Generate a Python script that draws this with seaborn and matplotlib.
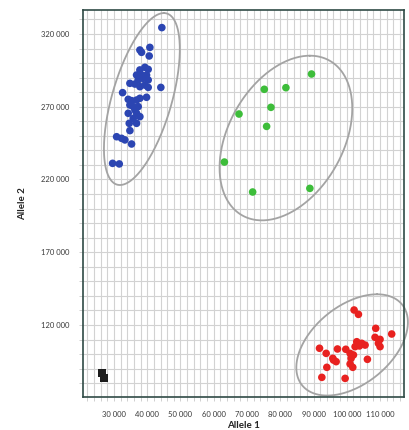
import numpy as np
import pandas as pd
import matplotlib
matplotlib.use("Agg")
import matplotlib.pyplot as plt
from matplotlib.ticker import MultipleLocator, FixedLocator
import seaborn as sns

# ---------------- data ----------------
blue_x = [44400, 37800, 38300, 40800, 40600, 37800, 39300, 40300, 36800, 38300, 39800,
          38800, 37300, 40300, 34800, 36300, 39300, 37800, 40300, 44100, 32600, 39800,
          34300, 35300, 36800, 37800, 34800, 35800, 37300, 36300, 34300, 36800, 37800,
          35800, 34600, 36800, 34800, 30800, 32300, 33300, 35300, 29600, 31600]
blue_y = [324400, 309000, 307400, 310800, 304900, 295300, 297100, 295700, 291800, 291800,
          291800, 289500, 288400, 288400, 286100, 285600, 284900, 283800, 283300, 283300,
          279700, 276500, 275100, 274200, 274600, 275800, 271200, 270100, 270100, 267800,
          265500, 265500, 263200, 262000, 258600, 258600, 253600, 249400, 248300, 247200,
          244400, 231100, 230700]

green_x = [89400, 75200, 81700, 67600, 77200, 75900, 63200, 71700, 88900]
green_y = [292500, 282000, 283100, 265000, 269600, 256500, 232000, 211400, 213900]

red_x = [102200, 103500, 108700, 113500, 108500, 110000, 109500, 110000, 103000, 104500,
         105500, 103800, 102500, 91800, 97200, 93800, 99700, 101000, 102000, 101300,
         95800, 96800, 96000, 106200, 101000, 101800, 94000, 92500, 99500]
red_y = [130300, 127300, 117700, 113800, 111500, 110100, 107400, 105100, 108500, 107400,
         106200, 105600, 105100, 104000, 103500, 100500, 103300, 100500, 99400, 97100,
         97100, 94800, 95900, 96400, 93200, 90900, 90900, 84000, 83300]

ntc_x = [26300, 27100]
ntc_y = [86800, 83400]

x_ticks = [30000, 40000, 50000, 60000, 70000, 80000, 90000, 100000, 110000]
x_tick_labels = ["30 000", "40 000", "50 000", "60 000", "70 000", "80 000",
                 "90 000", "100 000", "110 000"]
y_ticks = [120000, 170000, 220000, 270000, 320000]
y_tick_labels = ["120 000", "170 000", "220 000", "270 000", "320 000"]

# cluster ellipses: centre, conjugate semi-diameters (data units)
ell_cx = [38400, 81700, 101600]
ell_cy = [275300, 248500, 106300]
ell_dx = [6600, 7200, 7500]      # horizontal offset of top point
ell_dy = [59100, 56600, 34800]   # vertical semi-extent
ell_h = [9300, 18600, 15000]     # horizontal half chord through centre

# ---------------- figure ----------------
sns.set_theme(style="white")
plt.rcParams["font.family"] = ["Lato", "DejaVu Sans"]

fig = plt.figure(figsize=(4.1, 4.3), dpi=100)
ax = fig.add_axes([83 / 410, 1 - 397 / 430, (404 - 83) / 410, (397 - 10) / 430])

df = pd.DataFrame({
    "x": blue_x + green_x + red_x + ntc_x,
    "y": blue_y + green_y + red_y + ntc_y,
    "group": ["A"] * len(blue_x) + ["B"] * len(green_x) + ["C"] * len(red_x) + ["N"] * len(ntc_x),
})
palette = {"A": "#2b45b2", "B": "#3dbd3a", "C": "#e8211f", "N": "#1c1c1c"}

sns.scatterplot(data=df[df.group != "N"], x="x", y="y", hue="group", palette=palette,
                s=30, linewidth=0, legend=False, ax=ax, zorder=3)
sns.scatterplot(data=df[df.group == "N"], x="x", y="y", color=palette["N"], marker="s",
                s=26, linewidth=0, legend=False, ax=ax, zorder=3)

t = np.linspace(0, 2 * np.pi, 300)
for cx, cy, dx, dy, h in zip(ell_cx, ell_cy, ell_dx, ell_dy, ell_h):
    ex = cx + dx * np.cos(t) + h * np.sin(t)
    ey = cy + dy * np.cos(t)
    ax.plot(ex, ey, color="#a3a3a3", lw=1.3, zorder=2, clip_on=False)

ax.set_xlim(20700, 117200)
ax.set_ylim(70500, 336500)

ax.xaxis.set_major_locator(FixedLocator(x_ticks))
ax.set_xticklabels(x_tick_labels)
ax.yaxis.set_major_locator(FixedLocator(y_ticks))
ax.set_yticklabels(y_tick_labels)
ax.xaxis.set_minor_locator(MultipleLocator(2000))
ax.yaxis.set_minor_locator(MultipleLocator(10000))

ax.grid(True, which="both", color="#d2d2d2", lw=0.8, zorder=0)
ax.set_axisbelow(True)

ax.tick_params(axis="both", which="both", direction="out", length=3, width=0.6,
               color="#c8c8c8", labelsize=5.5, labelcolor="#3a3a3a")
ax.tick_params(axis="x", which="major", pad=7)
ax.tick_params(axis="y", which="major", pad=7)
ax.tick_params(bottom=True, left=True, which="both")

for sp in ax.spines.values():
    sp.set_visible(True)
    sp.set_color("#2f4a45")
    sp.set_linewidth(1.2)

ax.set_xlabel("Allele 1", fontsize=7, fontweight="bold", color="#222222", labelpad=2)
ax.set_ylabel("Allele 2", fontsize=7, fontweight="bold", color="#222222", labelpad=10)

fig.savefig("out.png", dpi=100, facecolor="white")
